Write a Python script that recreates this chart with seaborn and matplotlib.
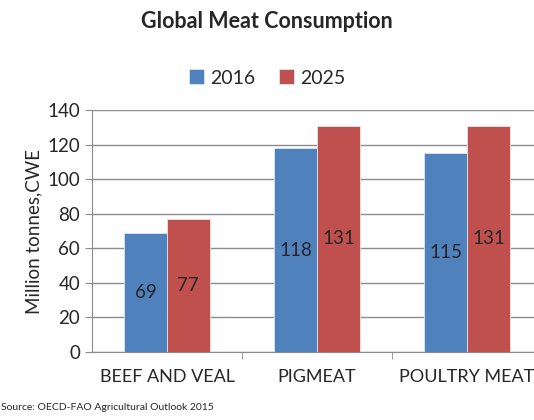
import pandas as pd
import matplotlib.pyplot as plt
import seaborn as sns

# data
categories = ['BEEF AND VEAL', 'PIGMEAT', 'POULTRY MEAT']
years = ['2016', '2025']
values_2016 = [69, 118, 115]
values_2025 = [77, 131, 131]

df = pd.DataFrame({
    'category': categories * 2,
    'year': [years[0]] * 3 + [years[1]] * 3,
    'value': values_2016 + values_2025,
})

sns.set_style('white')
plt.rcParams['font.family'] = ['Lato', 'DejaVu Sans']

fig = plt.figure(figsize=(5.34, 4.2), dpi=100)
ax = fig.add_axes([92 / 534, (420 - 352) / 420, 450 / 534, (352 - 110) / 420])

sns.barplot(data=df, x='category', y='value', hue='year',
            palette=['#4F81BD', '#C0504D'], saturation=1, width=0.57, gap=0,
            edgecolor='#dfe6f0', linewidth=0.6, ax=ax, legend=True)

ax.set_ylim(0, 140)
ax.set_xlim(-0.5, 2.5)
ax.set_yticks(range(0, 141, 20))
ax.yaxis.grid(True, color='#8c8c8c', linewidth=1)
ax.set_axisbelow(True)
for s in ['top', 'right']:
    ax.spines[s].set_visible(False)
for s in ['left', 'bottom']:
    ax.spines[s].set_color('#8c8c8c')
ax.tick_params(axis='y', labelsize=13.5, length=5, color='#8c8c8c', direction='out', left=True)
ax.tick_params(axis='x', labelsize=13, length=0, pad=12)
ax.set_xlabel('')
ax.set_ylabel('Million tonnes,CWE', fontsize=13.5)

# minor ticks between categories
ax.set_xticks([0.5, 1.5], minor=True)
ax.tick_params(axis='x', which='minor', length=5, color='#8c8c8c', bottom=True)

for cont in ax.containers:
    ax.bar_label(cont, label_type='center', fontsize=13.5)

ax.legend(loc='upper center', bbox_to_anchor=(0.5 * 534 / 450 - 92 / 450, 1.24),
          ncol=2, frameon=False, fontsize=14, handlelength=0.8, handleheight=0.8,
          columnspacing=1.2, handletextpad=0.3)

fig.text(0.5, 0.95, 'Global Meat Consumption', ha='center', va='center',
         fontsize=15.5, fontweight='bold')
fig.text(0.002, 0.025, 'Source: OECD-FAO Agricultural Outlook 2015', fontsize=7.5)

fig.savefig('out.png', dpi=100)
